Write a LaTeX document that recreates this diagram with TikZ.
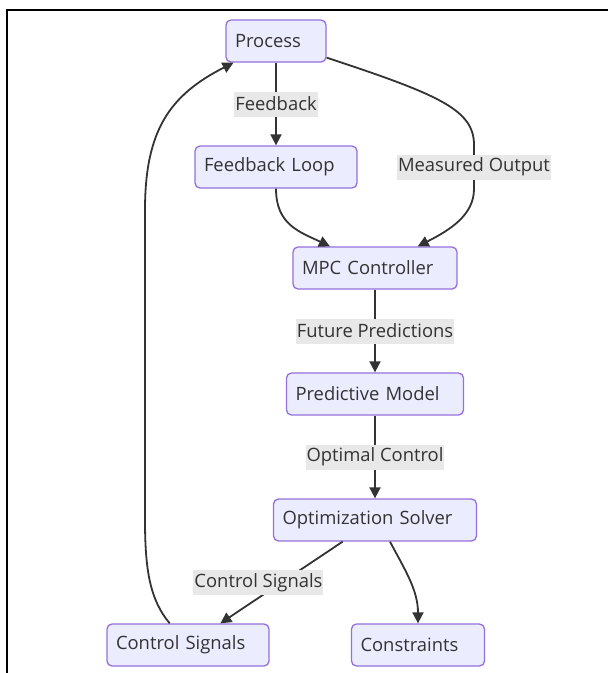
\documentclass[tikz,border=0pt]{standalone}
\usepackage{fontspec}
\setmainfont{Open Sans}
\usetikzlibrary{arrows.meta}
\definecolor{boxfill}{HTML}{ECECFF}
\definecolor{boxline}{HTML}{9370DB}
\definecolor{ink}{HTML}{333333}
\definecolor{lblfill}{HTML}{E8E8E8}
\begin{document}
\begin{tikzpicture}[x=1pt,y=-1pt]
\tikzset{blok/.style={draw=boxline, fill=boxfill, line width=1.3pt, rounded corners=5pt, text=ink, minimum height=42pt, inner xsep=9pt, text width=#1-18pt, align=left, font=\fontsize{18.4}{21}\selectfont},
  lbl/.style={fill=lblfill, text=ink, inner xsep=1pt, inner ysep=0pt, minimum height=25pt, font=\fontsize{18.4}{21}\selectfont},
  arr/.style={draw=ink, line width=1.8pt, -{Triangle[length=11pt,width=11pt]}}}
\useasboundingbox (0,0) rectangle (608,673);
\draw[line width=2.2pt] (7,673) -- (7,10) -- (608,10);
\node[blok=100pt] (proc) at (276,41) {Process};
\node[blok=162pt] (fbl) at (276,167) {Feedback Loop};
\node[blok=164pt] (mpc) at (375,268) {MPC Controller};
\node[blok=177pt] (pred) at (375,394) {Predictive Model};
\node[blok=203pt] (opt) at (375,520) {Optimization Solver};
\node[blok=162pt] (csig) at (188,645) {Control Signals};
\node[blok=133pt] (cons) at (418,645) {Constraints};
\draw[arr] (proc) -- node[lbl] {Feedback} (fbl);
\draw[arr] (proc) .. controls (440,95) and (474,110) .. (474,145) -- node[lbl] {Measured Output} (474,189) .. controls (474,215) and (450,230) .. (mpc);
\draw[arr] (fbl) .. controls (276,225) and (300,232) .. (mpc);
\draw[arr] (mpc) -- node[lbl] {Future Predictions} (pred);
\draw[arr] (pred) -- node[lbl] {Optimal Control} (opt);
\draw[arr] (opt) -- node[lbl, xshift=-23pt] {Control Signals} (csig);
\draw[arr] ([xshift=15pt]opt.south) .. controls (405,570) and (418,590) .. (cons);
\draw[arr] (csig) .. controls (150,600) and (145,570) .. (145,520) -- (145,210) .. controls (145,130) and (170,95) .. (proc);
\end{tikzpicture}
\end{document}
